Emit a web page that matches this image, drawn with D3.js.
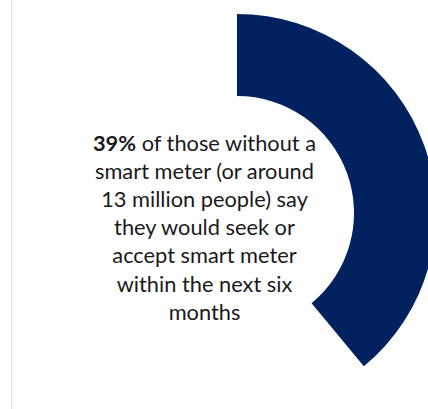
<!DOCTYPE html>
<html>
<head>
<meta charset="utf-8">
<script src="https://cdn.jsdelivr.net/npm/d3@7"></script>
<style>
  html, body { margin: 0; padding: 0; background: #ffffff; }
  svg { display: block; }
</style>
</head>
<body>
<script>
// Share of people without a smart meter who would seek or accept one
const categories = ["Would seek or accept", "Other"];
const values = [39, 61];
const sliceColors = ["#02215f", "none"];

// Caption lines; the first span of line one is bold
const captionLines = [
  [{ t: "39%", bold: true }, { t: " of those without a", bold: false }],
  [{ t: "smart meter (or around", bold: false }],
  [{ t: "13 million people) say", bold: false }],
  [{ t: "they would seek or", bold: false }],
  [{ t: "accept smart meter", bold: false }],
  [{ t: "within the next six", bold: false }],
  [{ t: "months", bold: false }]
];

const W = 428, H = 409;
const cx = 237, cy = 213;
const outerR = 199, innerR = 117;

const svg = d3.select("body").append("svg")
  .attr("width", W).attr("height", H);

// thin frame line on the left edge
svg.append("line")
  .attr("x1", 11.5).attr("x2", 11.5)
  .attr("y1", 0).attr("y2", H)
  .attr("stroke", "#e3e3e3").attr("stroke-width", 1);

const pie = d3.pie().sort(null).value(d => d)(values);
const arc = d3.arc().innerRadius(innerR).outerRadius(outerR);

svg.append("g")
  .attr("transform", `translate(${cx},${cy})`)
  .selectAll("path")
  .data(pie)
  .join("path")
  .attr("d", arc)
  .attr("fill", (d, i) => sliceColors[i]);

// caption
const textX = 204.5, firstBaseline = 150.5, lineGap = 28.2;
const text = svg.append("text")
  .attr("text-anchor", "middle")
  .attr("font-family", "Lato, 'Open Sans', sans-serif")
  .attr("font-size", 21.8)
  .attr("fill", "#1a1a1a");

captionLines.forEach((line, i) => {
  const tl = text.append("tspan")
    .attr("x", textX)
    .attr("y", firstBaseline + i * lineGap);
  line.forEach(seg => {
    tl.append("tspan")
      .attr("font-weight", seg.bold ? "bold" : "normal")
      .text(seg.t);
  });
});
</script>
</body>
</html>
